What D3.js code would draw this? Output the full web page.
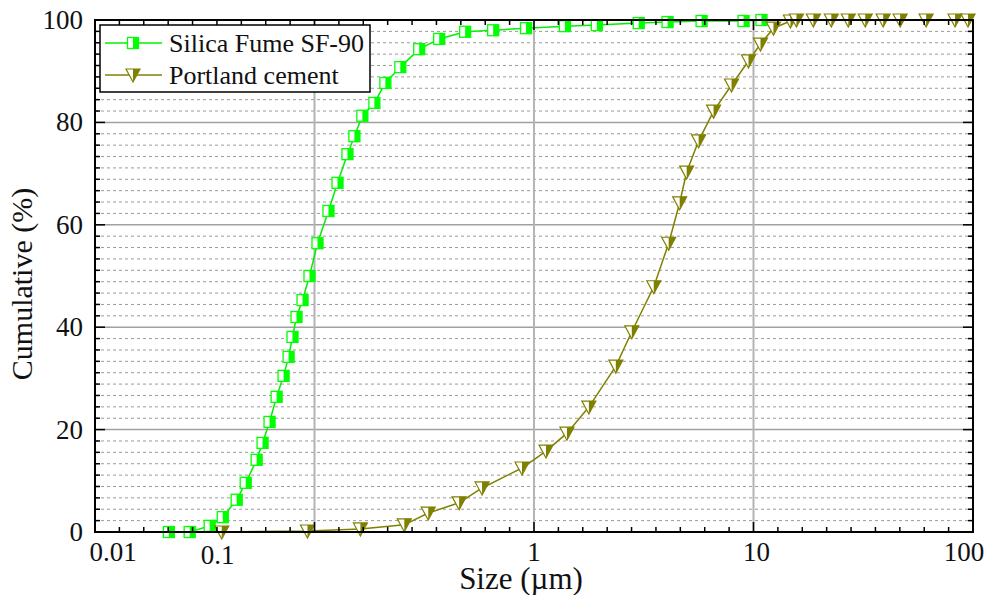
<html>
<head>
<meta charset="utf-8">
<title>Cumulative particle size</title>
<script src="https://cdnjs.cloudflare.com/ajax/libs/d3/7.8.5/d3.min.js"></script>
<style>
  body { margin: 0; background: #fff; }
  text { font-family: "Liberation Serif", "Times New Roman", serif; fill: #111; }
</style>
</head>
<body>
<svg class="chart" width="986" height="595"></svg>
<script>
// values
var sizeTicks = [0.01, 0.1, 1, 10, 100];
var sizeTickLabels = ["0.01", "0.1", "1", "10", "100"];
var cumTicks = [0, 20, 40, 60, 80, 100];
var seriesNames = ["Silica Fume SF-90", "Portland cement"];

var silicaSize = [0.0217, 0.0270, 0.0333, 0.0382, 0.0442, 0.0486, 0.0545, 0.0580, 0.0624, 0.0672,
                  0.0723, 0.0762, 0.0794, 0.0828, 0.0882, 0.0949, 0.1032, 0.1158, 0.1273, 0.1413,
                  0.1520, 0.1652, 0.1874, 0.2103, 0.2460, 0.2999, 0.3699, 0.4857, 0.6516, 0.9199,
                  1.383, 1.933, 3.000, 4.06, 5.80, 9.01, 10.87];
var silicaCum  = [0, 0, 1.2, 2.9, 6.3, 9.6, 14.1, 17.4, 21.5, 26.4,
                  30.5, 34.2, 38.1, 42.0, 45.3, 50.0, 56.4, 62.7, 68.2, 73.8,
                  77.3, 81.3, 83.8, 87.7, 90.8, 94.3, 96.3, 97.7, 98.0, 98.4,
                  98.8, 99.0, 99.4, 99.6, 99.8, 99.8, 100];

var cementSize = [0.0378, 0.0929, 0.1618, 0.2565, 0.3297, 0.4560, 0.5801, 0.8820, 1.134, 1.413,
                  1.778, 2.359, 2.790, 3.513, 4.109, 4.609, 4.960, 5.623, 6.579, 7.943,
                  9.490, 10.76, 12.33, 14.73, 15.69, 18.74, 22.62, 27.03, 32.29, 38.97,
                  46.57, 61.14, 82.83, 94.9];
var cementCum  = [0, 0.2, 0.6, 1.4, 3.7, 5.7, 8.6, 12.5, 15.8, 19.3,
                  24.4, 32.4, 39.1, 47.9, 56.4, 64.3, 70.3, 76.4, 82.2, 87.3,
                  92.0, 95.3, 98.4, 99.8, 100, 100, 100, 100, 100, 100,
                  100, 100, 100, 100];

var pL = 95, pR = 973, pT = 20, pB = 532;
var green = "#00f000", olive = "#808000";

var x = d3.scaleLog().domain([0.01, 100]).range([pL, pR]);
var y = d3.scaleLinear().domain([0, 100]).range([pB, pT]);

var svg = d3.select(".chart");

// minor positions: 9 even steps per decade / per 20 %
var xMinor = [];
for (var i = 0; i < sizeTicks.length - 1; i++) {
  var a = x(sizeTicks[i]), b = x(sizeTicks[i + 1]);
  for (var k = 1; k < 9; k++) xMinor.push(a + (b - a) * k / 9);
}
var yMinor = [];
for (var j = 0; j < cumTicks.length - 1; j++) {
  var c = y(cumTicks[j]), d = y(cumTicks[j + 1]);
  for (var m = 1; m < 9; m++) yMinor.push(c + (d - c) * m / 9);
}

var grid = svg.append("g");
grid.selectAll(".ym").data(yMinor).enter().append("line")
  .attr("x1", pL).attr("x2", pR)
  .attr("y1", function(d) { return d; }).attr("y2", function(d) { return d; })
  .attr("stroke", "#9a9a9a").attr("stroke-width", 1).attr("stroke-dasharray", "3,3");
grid.selectAll(".yM").data(cumTicks.slice(1, -1)).enter().append("line")
  .attr("x1", pL).attr("x2", pR)
  .attr("y1", function(d) { return y(d); }).attr("y2", function(d) { return y(d); })
  .attr("stroke", "#a0a0a0").attr("stroke-width", 1.5);
grid.selectAll(".xM").data(sizeTicks.slice(1, -1)).enter().append("line")
  .attr("y1", pT).attr("y2", pB)
  .attr("x1", function(d) { return x(d); }).attr("x2", function(d) { return x(d); })
  .attr("stroke", "#b4b4b4").attr("stroke-width", 2);

var line = d3.line().x(function(d) { return x(d[0]); }).y(function(d) { return y(d[1]); });
var silica = d3.zip(silicaSize, silicaCum);
var cement = d3.zip(cementSize, cementCum);

function square(g, col) {
  g.append("rect").attr("x", -5.5).attr("y", -5.5).attr("width", 11).attr("height", 11)
    .attr("fill", "#fff").attr("stroke", col).attr("stroke-width", 1.3);
  g.append("rect").attr("x", 0).attr("y", -5.5).attr("width", 5.5).attr("height", 11)
    .attr("fill", col);
}
function tri(g, col) {
  g.append("path").attr("d", "M-7,-6L7,-6L0,7Z")
    .attr("fill", "#fff").attr("stroke", col).attr("stroke-width", 1.2);
  g.append("path").attr("d", "M0,-6L7,-6L0,7Z").attr("fill", col);
}

svg.append("path").datum(silica).attr("d", line)
  .attr("fill", "none").attr("stroke", green).attr("stroke-width", 1.5);
svg.append("g").selectAll("g").data(silica).enter().append("g")
  .attr("transform", function(d) { return "translate(" + x(d[0]) + "," + y(d[1]) + ")"; })
  .each(function() { square(d3.select(this), "#00ff00"); });

svg.append("path").datum(cement).attr("d", line)
  .attr("fill", "none").attr("stroke", olive).attr("stroke-width", 1.5);
svg.append("g").selectAll("g").data(cement).enter().append("g")
  .attr("transform", function(d) { return "translate(" + x(d[0]) + "," + y(d[1]) + ")"; })
  .each(function() { tri(d3.select(this), olive); });

// frame and inward ticks
var axes = svg.append("g").attr("stroke", "#000");
axes.append("rect").attr("x", pL).attr("y", pT)
  .attr("width", pR - pL).attr("height", pB - pT)
  .attr("fill", "none").attr("stroke-width", 2);
xMinor.forEach(function(p) {
  axes.append("line").attr("x1", p).attr("x2", p).attr("y1", pB).attr("y2", pB - 5).attr("stroke-width", 1.5);
  axes.append("line").attr("x1", p).attr("x2", p).attr("y1", pT).attr("y2", pT + 5).attr("stroke-width", 1.5);
});
sizeTicks.forEach(function(v) {
  axes.append("line").attr("x1", x(v)).attr("x2", x(v)).attr("y1", pB).attr("y2", pB - 10).attr("stroke-width", 1.5);
  axes.append("line").attr("x1", x(v)).attr("x2", x(v)).attr("y1", pT).attr("y2", pT + 10).attr("stroke-width", 1.5);
});
yMinor.forEach(function(p) {
  axes.append("line").attr("y1", p).attr("y2", p).attr("x1", pL).attr("x2", pL + 5).attr("stroke-width", 1.5);
  axes.append("line").attr("y1", p).attr("y2", p).attr("x1", pR).attr("x2", pR - 5).attr("stroke-width", 1.5);
});
cumTicks.forEach(function(v) {
  axes.append("line").attr("y1", y(v)).attr("y2", y(v)).attr("x1", pL).attr("x2", pL + 10).attr("stroke-width", 1.5);
  axes.append("line").attr("y1", y(v)).attr("y2", y(v)).attr("x1", pR).attr("x2", pR - 10).attr("stroke-width", 1.5);
});

// tick labels (the reference sets the two small ones off their ticks)
var nudge = [18, -97, 0, 3, -9];
svg.append("g").selectAll("text").data(sizeTicks).enter().append("text")
  .attr("x", function(d, i) { return x(d) + nudge[i]; })
  .attr("y", function(d, i) { return i == 1 ? 564 : 561; })
  .attr("text-anchor", "middle").attr("font-size", 27)
  .text(function(d, i) { return sizeTickLabels[i]; });
svg.append("g").selectAll("text").data(cumTicks).enter().append("text")
  .attr("x", 83).attr("y", function(d) { return y(d) + 9; })
  .attr("text-anchor", "end").attr("font-size", 27)
  .text(function(d) { return d; });

svg.append("text").attr("x", 521).attr("y", 589).attr("text-anchor", "middle")
  .attr("font-size", 31).text("Size (\u00b5m)");
svg.append("text").attr("transform", "translate(32,284) rotate(-90)").attr("text-anchor", "middle")
  .attr("font-size", 30).text("Cumulative (%)");

// legend
var lg = svg.append("g");
lg.append("rect").attr("x", 100).attr("y", 25).attr("width", 270).attr("height", 67)
  .attr("fill", "#fff").attr("stroke", "#000").attr("stroke-width", 1.5);
var rows = [43, 75];
lg.append("line").attr("x1", 105).attr("x2", 162).attr("y1", rows[0]).attr("y2", rows[0])
  .attr("stroke", green).attr("stroke-width", 1.5);
square(lg.append("g").attr("transform", "translate(133," + rows[0] + ")"), "#00ff00");
lg.append("line").attr("x1", 105).attr("x2", 162).attr("y1", rows[1]).attr("y2", rows[1])
  .attr("stroke", olive).attr("stroke-width", 1.5);
tri(lg.append("g").attr("transform", "translate(133," + rows[1] + ")"), olive);
lg.selectAll(".lt").data(seriesNames).enter().append("text")
  .attr("x", 169).attr("y", function(d, i) { return rows[i] + 9; })
  .attr("font-size", 26).text(function(d) { return d; });
</script>
</body>
</html>
